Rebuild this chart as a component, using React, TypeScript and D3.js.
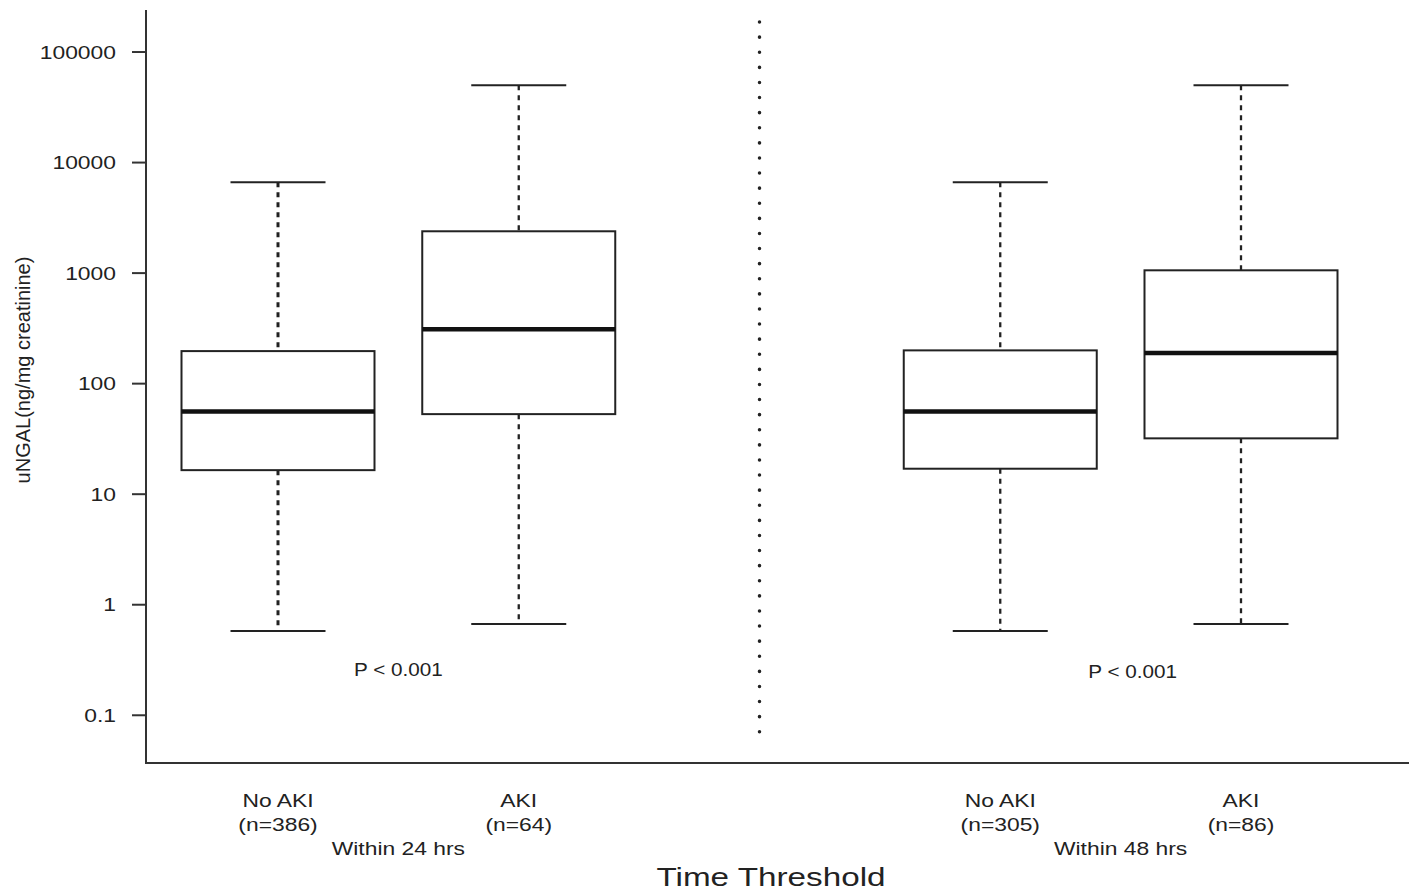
import React, { useEffect, useRef } from 'react';
import * as d3 from 'd3';

// 数据
const groups = ['No AKI', 'AKI', 'No AKI', 'AKI'];
const counts = [386, 64, 305, 86];
const positions = [1, 2, 4, 5];
const whiskerLow = [0.58, 0.67, 0.58, 0.67];
const q1 = [16.5, 53, 17, 32];
const medians = [56, 311, 56, 189];
const q3 = [197, 2390, 200, 1060];
const whiskerHigh = [6640, 50000, 6640, 50000];
const thresholds = ['Within 24 hrs', 'Within 48 hrs'];
const thresholdPos = [1.5, 4.5];
const pValues = ['P < 0.001', 'P < 0.001'];
const pValuePos = [1.5, 4.55];
const yTicks = [0.1, 1, 10, 100, 1000, 10000, 100000];

const App = () => {
  const svgRef = useRef<SVGSVGElement>(null);
  const width = 1409;
  const height = 890;

  useEffect(() => {
    if (!svgRef.current) return;
    const svg = d3.select(svgRef.current);
    svg.selectAll('*').remove();

    const FONT = '"Liberation Sans", Arial, sans-serif';
    const INK = '#222';
    const SX = 1.27; // 原图文字横向拉宽

    // 横向拉宽的文字
    const addText = (tx: number, ty: number, str: string, opts: { size?: number; anchor?: string; sx?: number; baseline?: string } = {}) => {
      svg.append('text')
        .attr('transform', `translate(${tx},${ty}) scale(${opts.sx ?? SX},1)`)
        .attr('text-anchor', opts.anchor ?? 'middle')
        .attr('dominant-baseline', opts.baseline ?? 'auto')
        .attr('font-family', FONT)
        .attr('font-size', opts.size ?? 18)
        .attr('fill', INK)
        .text(str);
    };

    const x = d3.scaleLinear().domain([1, 5]).range([278, 1241]);
    const y = d3.scaleLog().domain([0.037, 240000]).range([763, 10]);

    const axisLeft = 146;
    const axisBottom = 763;

    // 坐标轴
    svg.append('line')
      .attr('x1', axisLeft).attr('y1', 10)
      .attr('x2', axisLeft).attr('y2', axisBottom)
      .attr('stroke', '#333').attr('stroke-width', 2);
    svg.append('line')
      .attr('x1', axisLeft - 1).attr('y1', axisBottom)
      .attr('x2', width).attr('y2', axisBottom)
      .attr('stroke', '#333').attr('stroke-width', 2);

    yTicks.forEach(t => {
      svg.append('line')
        .attr('x1', axisLeft - 14).attr('x2', axisLeft)
        .attr('y1', y(t)).attr('y2', y(t))
        .attr('stroke', '#333').attr('stroke-width', 2);
      addText(axisLeft - 30, y(t) + 6.5, String(t), { anchor: 'end' });
    });

    // y轴标题
    svg.append('text')
      .attr('transform', `translate(30, 370) rotate(-90)`)
      .attr('text-anchor', 'middle')
      .attr('font-family', FONT)
      .attr('font-size', 20)
      .attr('fill', INK)
      .text('uNGAL(ng/mg creatinine)');

    // 分隔虚线
    svg.append('line')
      .attr('x1', x(3)).attr('x2', x(3))
      .attr('y1', 22).attr('y2', 737)
      .attr('stroke', '#222')
      .attr('stroke-width', 3.5)
      .attr('stroke-linecap', 'round')
      .attr('stroke-dasharray', '0.1 15');

    const boxW = 193;
    const capW = 95;

    groups.forEach((g, i) => {
      const cx = x(positions[i]);

      // 须线
      [[whiskerHigh[i], q3[i]], [q1[i], whiskerLow[i]]].forEach(([a, b]) => {
        svg.append('line')
          .attr('x1', cx).attr('x2', cx)
          .attr('y1', y(a)).attr('y2', y(b))
          .attr('stroke', '#222')
          .attr('stroke-width', i === 0 ? 3 : 2.3)
          .attr('stroke-dasharray', '5 5');
      });
      [whiskerHigh[i], whiskerLow[i]].forEach(v => {
        svg.append('line')
          .attr('x1', cx - capW / 2).attr('x2', cx + capW / 2)
          .attr('y1', y(v)).attr('y2', y(v))
          .attr('stroke', '#222')
          .attr('stroke-width', 2);
      });

      // 箱体
      svg.append('rect')
        .attr('x', cx - boxW / 2)
        .attr('y', y(q3[i]))
        .attr('width', boxW)
        .attr('height', y(q1[i]) - y(q3[i]))
        .attr('fill', '#fff')
        .attr('stroke', '#222')
        .attr('stroke-width', 2);

      svg.append('line')
        .attr('x1', cx - boxW / 2).attr('x2', cx + boxW / 2)
        .attr('y1', y(medians[i])).attr('y2', y(medians[i]))
        .attr('stroke', '#111')
        .attr('stroke-width', 4.5);

      // x轴标签
      addText(cx, 807, g);
      addText(cx, 831, `(n=${counts[i]})`);
    });

    thresholds.forEach((t, i) => {
      addText(x(thresholdPos[i]), 855, t);
    });

    pValues.forEach((p, i) => {
      addText(x(pValuePos[i]), 676 + i * 2, p, { sx: 1.15 });
    });

    addText(771, 886, 'Time Threshold', { size: 25, sx: 1.33 });
  }, []);

  return (
    <div style={{ position: 'absolute', left: 0, top: 0, width: `${width}px`, height: `${height}px`, background: '#fff' }}>
      <svg ref={svgRef} width={width} height={height} style={{ display: 'block' }}></svg>
    </div>
  );
};

export default App;
